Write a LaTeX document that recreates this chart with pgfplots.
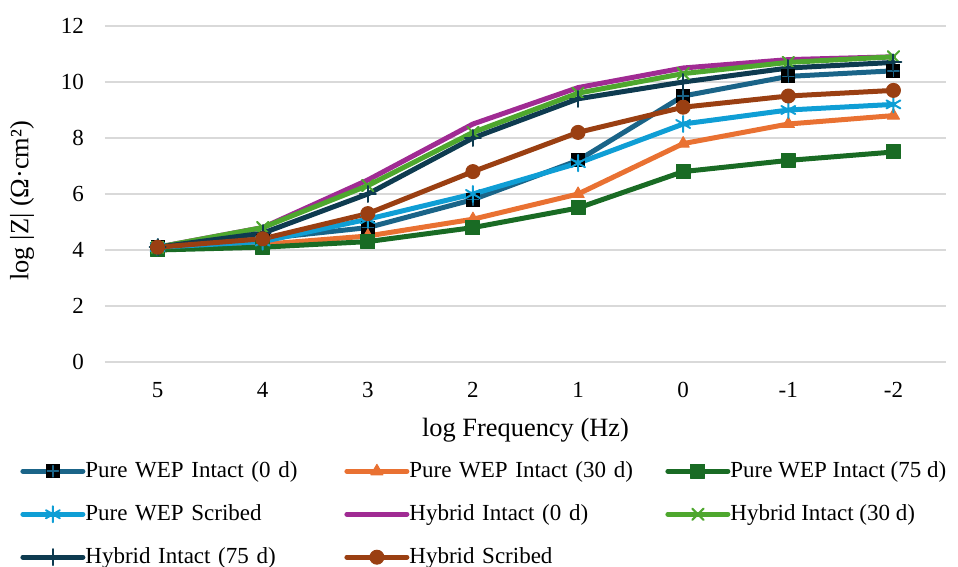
\documentclass[border=0pt]{standalone}
\usepackage{pgfplots}
\pgfplotsset{compat=1.18}
\usepackage{fontspec}
\setmainfont{Liberation Serif}
\definecolor{cA}{HTML}{1A6488}
\definecolor{cB}{HTML}{E97132}
\definecolor{cC}{HTML}{196B24}
\definecolor{cD}{HTML}{0F9ED5}
\definecolor{cE}{HTML}{A02B93}
\definecolor{cF}{HTML}{4EA72E}
\definecolor{cG}{HTML}{0E3B50}
\definecolor{cH}{HTML}{9A3F12}
\definecolor{gridc}{HTML}{D9D9D9}
% black square with a plus in the line colour
\pgfdeclareplotmark{sqplus}{%
  \pgfpathrectangle{\pgfqpoint{-\pgfplotmarksize}{-\pgfplotmarksize}}{\pgfqpoint{2\pgfplotmarksize}{2\pgfplotmarksize}}%
  \pgfsetfillcolor{black}\pgfusepathqfill
  \pgfsetlinewidth{0.8pt}\pgfsetstrokecolor{cA}%
  \pgfpathmoveto{\pgfqpoint{-0.8\pgfplotmarksize}{0pt}}\pgfpathlineto{\pgfqpoint{0.8\pgfplotmarksize}{0pt}}%
  \pgfpathmoveto{\pgfqpoint{0pt}{-0.8\pgfplotmarksize}}\pgfpathlineto{\pgfqpoint{0pt}{0.8\pgfplotmarksize}}%
  \pgfusepathqstroke}
\begin{document}
\begin{tikzpicture}
\useasboundingbox (-52.5pt,-102.5pt) rectangle (426.5pt,181pt);
\begin{axis}[
  at={(0,0)},anchor=south west,
  width=420.5pt,height=168pt,scale only axis,
  xmin=-0.5,xmax=7.5,ymin=0,ymax=12,
  xtick={0,...,7},xticklabels={5,4,3,2,1,0,-1,-2},
  ytick={0,2,...,12},
  ymajorgrids,grid style={gridc,line width=0.8pt},
  axis line style={draw=none},
  major tick length=0pt,
  tick label style={font=\fontsize{11.5}{13}\selectfont},
  /pgf/number format/assume math mode=true,
  xticklabel style={anchor=center,yshift=-14pt},
  yticklabel style={anchor=east,xshift=-7pt},
  xlabel={log Frequency (Hz)},
  ylabel={log |Z| (Ω·cm²)},
  every axis x label/.style={at={(axis description cs:0.5,0)},anchor=center,yshift=-34pt,font=\fontsize{13.2}{15}\selectfont},
  every axis y label/.style={at={(axis description cs:-0.0987,0.48)},anchor=center,rotate=90,font=\fontsize{13.2}{15}\selectfont},
  every axis plot/.append style={line width=2.5pt,mark size=3.5pt,line join=round,line cap=round},
  legend columns=3,
  legend cell align=left,
  legend style={at={(-0.1082,-0.278)},anchor=north west,draw=none,fill=none,
    font=\fontsize{11.5}{13}\selectfont,row sep=10pt,
    nodes={inner xsep=0pt,inner ysep=1pt},
    /tikz/column 2/.append style={nodes={text width=129.5pt,align=left}},
    /tikz/column 4/.append style={nodes={text width=128pt,align=left}}},
  legend image code/.code={\draw[mark repeat=2,mark phase=2] plot coordinates {(0pt,0pt) (15pt,0pt) (30pt,0pt)};},
]
\addplot[cA,mark=sqplus] coordinates {(0,4.1) (1,4.4) (2,4.8) (3,5.8) (4,7.2) (5,9.5) (6,10.2) (7,10.4)};
\addlegendentry{Pure WEP Intact (0 d)}
\addplot[cB,mark=triangle*,mark options={solid,fill=cB,line width=0.5pt}] coordinates {(0,4.0) (1,4.2) (2,4.5) (3,5.1) (4,6.0) (5,7.8) (6,8.5) (7,8.8)};
\addlegendentry{Pure WEP Intact (30 d)}
\addplot[cC,mark=square*,mark options={fill=cC,line width=0.5pt}] coordinates {(0,4.0) (1,4.1) (2,4.3) (3,4.8) (4,5.5) (5,6.8) (6,7.2) (7,7.5)};
\addlegendentry{Pure WEP Intact (75 d)}
\addplot[cD,mark=asterisk,mark options={line width=1pt,mark size=4pt}] coordinates {(0,4.1) (1,4.3) (2,5.1) (3,6.0) (4,7.1) (5,8.5) (6,9.0) (7,9.2)};
\addlegendentry{Pure WEP Scribed}
\addplot[cE] coordinates {(0,4.1) (1,4.8) (2,6.5) (3,8.5) (4,9.8) (5,10.5) (6,10.8) (7,10.9)};
\addlegendentry{Hybrid Intact (0 d)}
\addplot[cF,mark=x,mark options={line width=1pt,mark size=4pt}] coordinates {(0,4.1) (1,4.8) (2,6.3) (3,8.2) (4,9.6) (5,10.3) (6,10.7) (7,10.9)};
\addlegendentry{Hybrid Intact (30 d)}
\addplot[cG,mark=+,mark options={line width=1pt,mark size=4pt}] coordinates {(0,4.1) (1,4.6) (2,6.0) (3,8.0) (4,9.4) (5,10.0) (6,10.5) (7,10.7)};
\addlegendentry{Hybrid Intact (75 d)}
\addplot[cH,mark=*,mark options={fill=cH,line width=0.5pt}] coordinates {(0,4.1) (1,4.4) (2,5.3) (3,6.8) (4,8.2) (5,9.1) (6,9.5) (7,9.7)};
\addlegendentry{Hybrid Scribed}
\end{axis}
\end{tikzpicture}
\end{document}
